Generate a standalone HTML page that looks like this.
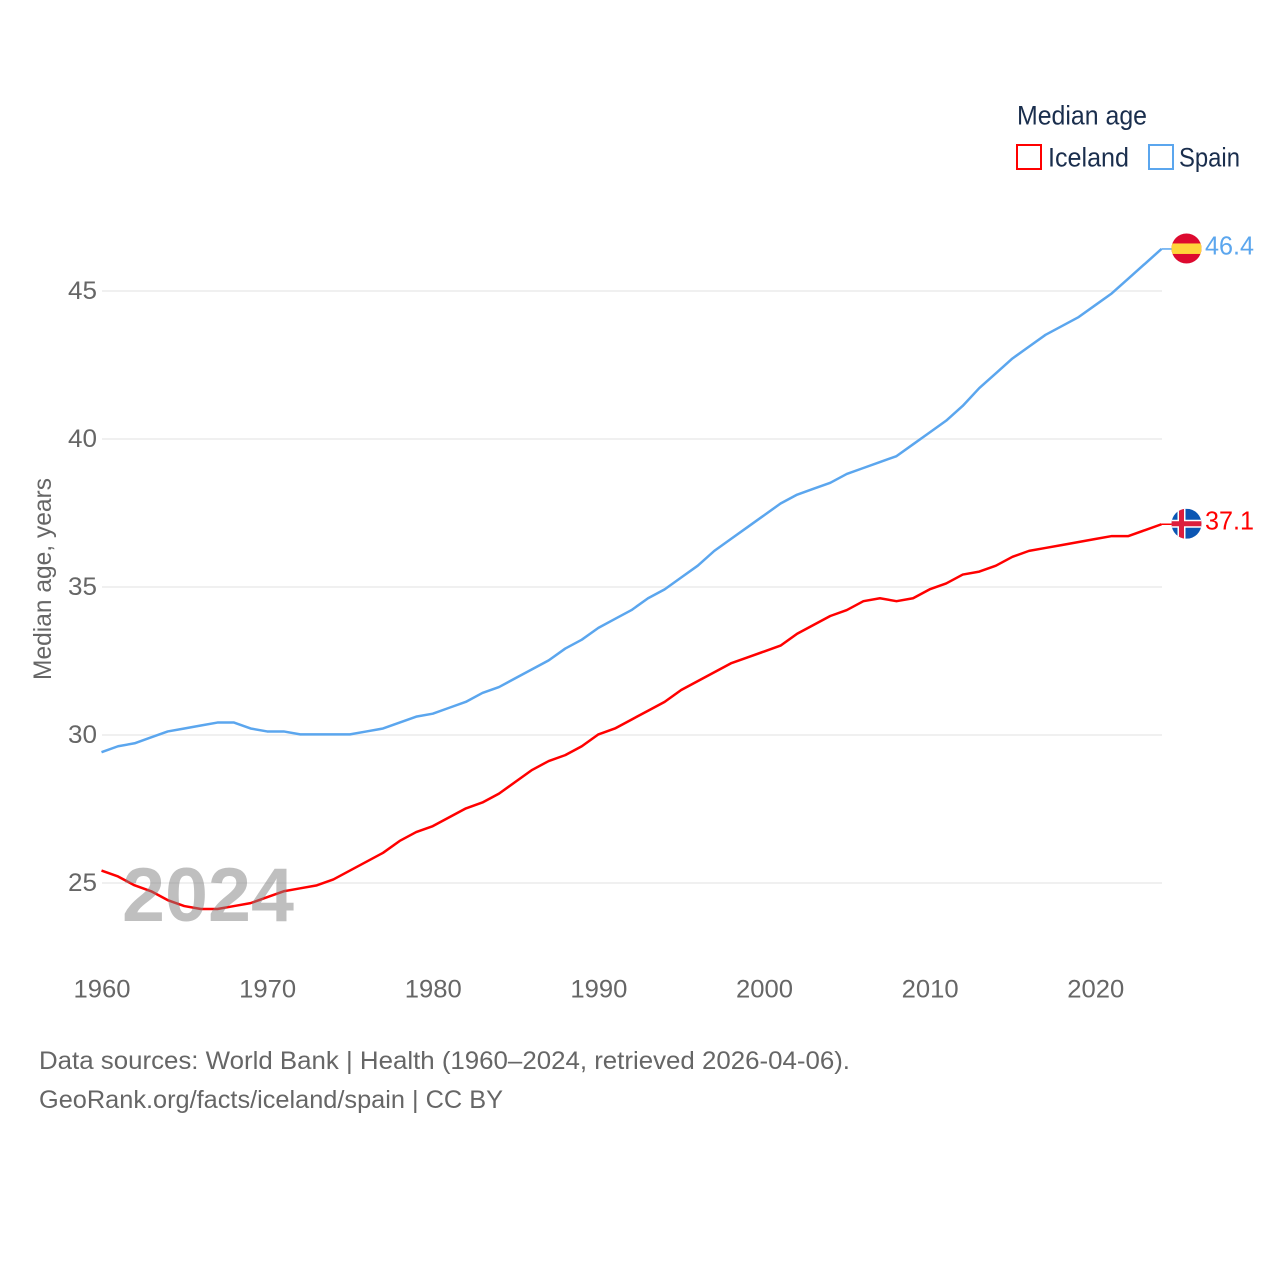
<!DOCTYPE html>
<html lang="en">
<head>
<meta charset="utf-8">
<title>Median age: Iceland and Spain</title>
<style>
html,body{margin:0;padding:0;background:#fff;width:1280px;height:1280px;overflow:hidden}
svg{display:block;font-family:"Liberation Sans",sans-serif}
</style>
</head>
<body>
<svg id="chart" xmlns="http://www.w3.org/2000/svg" width="1280" height="1280" viewBox="0 0 1280 1280">
  <defs>
    <clipPath id="flag-clip"><circle cx="0" cy="0" r="15"></circle></clipPath>
  </defs>
  <g id="grid"></g>
  <g id="y-ticks"></g>
  <g id="x-ticks"></g>
  <text transform="translate(51,579) rotate(-90)" text-anchor="middle" font-size="25" fill="#666" textLength="202" lengthAdjust="spacingAndGlyphs">Median age, years</text>
  <g id="series"></g>
  <text x="122" y="921" font-size="76" font-weight="700" fill="#808080" fill-opacity="0.5" textLength="172" lengthAdjust="spacingAndGlyphs">2024</text>
  <g id="end-markers"></g>
  <g>
    <text x="1017" y="124.5" font-size="27" fill="#1a2e4d" textLength="130" lengthAdjust="spacingAndGlyphs">Median age</text>
    <g>
      <rect x="1017" y="145" width="24" height="24" fill="none" stroke="#ff0000" stroke-width="2"></rect>
      <text x="1048" y="166.5" font-size="27" fill="#1a2e4d" textLength="81" lengthAdjust="spacingAndGlyphs">Iceland</text>
    </g>
    <g>
      <rect x="1149" y="145" width="24" height="24" fill="none" stroke="#5ba6ee" stroke-width="2"></rect>
      <text x="1179" y="166.5" font-size="27" fill="#1a2e4d" textLength="61" lengthAdjust="spacingAndGlyphs">Spain</text>
    </g>
  </g>
  <g>
    <text x="39" y="1069" font-size="25" fill="#666" textLength="811" lengthAdjust="spacingAndGlyphs">Data sources: World Bank | Health (1960–2024, retrieved 2026-04-06).</text>
    <text x="39" y="1108" font-size="25" fill="#666" textLength="464" lengthAdjust="spacingAndGlyphs">GeoRank.org/facts/iceland/spain | CC BY</text>
  </g>
</svg>
<script>
const years = [1960,1961,1962,1963,1964,1965,1966,1967,1968,1969,1970,1971,1972,1973,1974,1975,1976,1977,1978,1979,1980,1981,1982,1983,1984,1985,1986,1987,1988,1989,1990,1991,1992,1993,1994,1995,1996,1997,1998,1999,2000,2001,2002,2003,2004,2005,2006,2007,2008,2009,2010,2011,2012,2013,2014,2015,2016,2017,2018,2019,2020,2021,2022,2023,2024];
const spainValues = [29.4,29.6,29.7,29.9,30.1,30.2,30.3,30.4,30.4,30.2,30.1,30.1,30.0,30.0,30.0,30.0,30.1,30.2,30.4,30.6,30.7,30.9,31.1,31.4,31.6,31.9,32.2,32.5,32.9,33.2,33.6,33.9,34.2,34.6,34.9,35.3,35.7,36.2,36.6,37.0,37.4,37.8,38.1,38.3,38.5,38.8,39.0,39.2,39.4,39.8,40.2,40.6,41.1,41.7,42.2,42.7,43.1,43.5,43.8,44.1,44.5,44.9,45.4,45.9,46.4];
const icelandValues = [25.4,25.2,24.9,24.7,24.4,24.2,24.1,24.1,24.2,24.3,24.5,24.7,24.8,24.9,25.1,25.4,25.7,26.0,26.4,26.7,26.9,27.2,27.5,27.7,28.0,28.4,28.8,29.1,29.3,29.6,30.0,30.2,30.5,30.8,31.1,31.5,31.8,32.1,32.4,32.6,32.8,33.0,33.4,33.7,34.0,34.2,34.5,34.6,34.5,34.6,34.9,35.1,35.4,35.5,35.7,36.0,36.2,36.3,36.4,36.5,36.6,36.7,36.7,36.9,37.1];
const yTickValues = [25,30,35,40,45];
const xTickValues = [1960,1970,1980,1990,2000,2010,2020];

const NS = 'http://www.w3.org/2000/svg';
function xScale(year){ return 101.5 + (year - 1960) * (1161.5 - 101.5) / 64; }
function yScale(v){ return 882.4 - (v - 25) * (882.4 - 290.4) / 20; }
function make(tag, attrs, parent){
  const el = document.createElementNS(NS, tag);
  for (const k in attrs) el.setAttribute(k, attrs[k]);
  parent.appendChild(el);
  return el;
}

const grid = document.getElementById('grid');
const yTicks = document.getElementById('y-ticks');
yTickValues.forEach(function(v){
  const gy = yScale(v) + 0.6;
  const line = make('line', {x1:102, x2:1162, y1:gy, y2:gy, stroke:'#ececec', 'stroke-width':1.5}, grid);
  
  
  const t = make('text', {x:97, y:gy+8, 'text-anchor':'end', 'font-size':25, fill:'#666', textLength:29, lengthAdjust:'spacingAndGlyphs'}, yTicks);
  t.textContent = String(v);
  
  
});

const xTicks = document.getElementById('x-ticks');
xTickValues.forEach(function(yr){
  const t = make('text', {x:xScale(yr) + 0.5, y:997.5, 'text-anchor':'middle', 'font-size':25, fill:'#666', textLength:57, lengthAdjust:'spacingAndGlyphs'}, xTicks);
  t.textContent = String(yr);
  
  
});

function linePath(values){
  return values.map(function(v, i){
    return (i ? 'L' : 'M') + xScale(years[i]).toFixed(2) + ' ' + yScale(v).toFixed(2);
  }).join(' ');
}

const seriesGroup = document.getElementById('series');
const spainLine = make('path', {d:linePath(spainValues), fill:'none', stroke:'#5ba6ee', 'stroke-width':2.5, 'stroke-linejoin':'round'}, seriesGroup);


const icelandLine = make('path', {d:linePath(icelandValues), fill:'none', stroke:'#ff0000', 'stroke-width':2.5, 'stroke-linejoin':'round'}, seriesGroup);



const markers = document.getElementById('end-markers');
function addConnector(values, color, name){
  const lastY = yScale(values[values.length - 1]);
  const lastX = xScale(years[years.length - 1]);
  const c = make('line', {x1:lastX, x2:lastX + 12, y1:lastY, y2:lastY, stroke:color, 'stroke-width':1.5}, markers);
  
  
}
function addLabel(values, color, name){
  const last = values[values.length - 1];
  const t = make('text', {x:1254, y:yScale(last) + 5.5, 'text-anchor':'end', 'font-size':26, fill:color, textLength:49, lengthAdjust:'spacingAndGlyphs'}, markers);
  t.textContent = last.toFixed(1);
  
  
}
function flagGroup(values, name){
  const last = values[values.length - 1];
  const g = make('g', {transform:'translate(1186.5,' + (yScale(last) - 0.5).toFixed(2) + ')', 'clip-path':'url(#flag-clip)'}, markers);
  
  
  return g;
}

addConnector(spainValues, '#5ba6ee', 'connector-spain');
const spainFlag = flagGroup(spainValues, 'flag-spain');
make('rect', {x:-15, y:-15, width:30, height:30, fill:'#dd0a2f'}, spainFlag);
make('rect', {x:-15, y:-5, width:30, height:10.5, fill:'#ffd43b'}, spainFlag);
addLabel(spainValues, '#5ba6ee', 'end-value-spain');

addConnector(icelandValues, '#ff0000', 'connector-iceland');
const icelandFlag = flagGroup(icelandValues, 'flag-iceland');
make('rect', {x:-15, y:-15, width:30, height:30, fill:'#0b56b3'}, icelandFlag);
make('rect', {x:-15, y:-4, width:30, height:8, fill:'#ffffff'}, icelandFlag);
make('rect', {x:-9, y:-15, width:8, height:30, fill:'#ffffff'}, icelandFlag);
make('rect', {x:-15, y:-2.5, width:30, height:5, fill:'#dc1e3c'}, icelandFlag);
make('rect', {x:-7.5, y:-15, width:5, height:30, fill:'#dc1e3c'}, icelandFlag);
addLabel(icelandValues, '#ff0000', 'end-value-iceland');
</script>
</body>
</html>
